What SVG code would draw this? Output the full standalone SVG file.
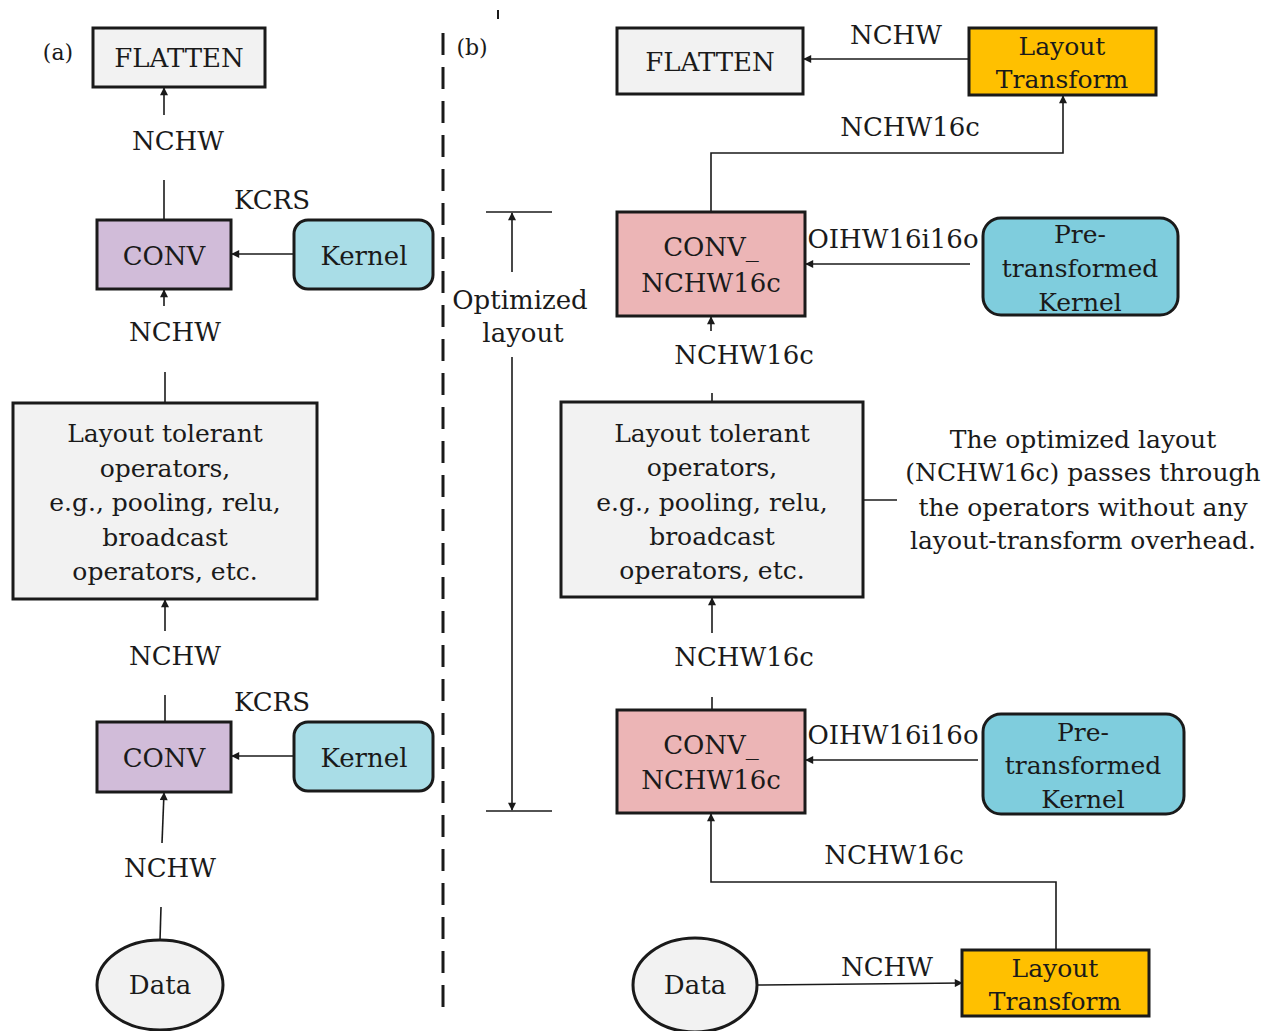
<svg xmlns="http://www.w3.org/2000/svg" width="1269" height="1031" viewBox="0 0 1269 1031">
<style>
text{font-family:"DejaVu Serif","Liberation Serif",serif;fill:#1a1a1a;text-anchor:middle}
.lbl{font-size:26px}
.box{font-size:25px}
.nd{stroke:#1a1a1a;stroke-width:3}
.gray{fill:#f2f2f2}
.purple{fill:#d1bcd9}
.cyan{fill:#a9dde7}
.cyan2{fill:#7fcddd}
.pink{fill:#ecb5b6}
.orange{fill:#ffc000}
.c{fill:none;stroke:#1a1a1a;stroke-width:1.6}
.arr{marker-end:url(#ah)}
</style>
<defs>
<marker id="ah" viewBox="0 0 10 10" refX="9" refY="5" markerWidth="9" markerHeight="8" markerUnits="userSpaceOnUse" orient="auto">
<path d="M0,0 L10,5 L0,10 z" fill="#1a1a1a"/>
</marker>
</defs>
<rect width="1269" height="1031" fill="#ffffff"/>

<!-- divider -->
<line x1="443" y1="33" x2="443" y2="1015" stroke="#1a1a1a" stroke-width="3" stroke-dasharray="22,12"/>
<line x1="498" y1="10" x2="498" y2="19" stroke="#1a1a1a" stroke-width="2"/>
<text x="58" y="60" style="font-size:22px">(a)</text>
<text x="472" y="55" style="font-size:22px">(b)</text>

<g id="connectors">
<!-- panel a -->
<line class="c arr" x1="164" y1="115" x2="164" y2="88"/>
<line class="c" x1="164" y1="180" x2="164" y2="220"/>
<line class="c arr" x1="294" y1="254" x2="232" y2="254"/>
<line class="c arr" x1="164" y1="306" x2="164" y2="290"/>
<line class="c" x1="165" y1="372" x2="165" y2="403"/>
<line class="c arr" x1="165" y1="631" x2="165" y2="600"/>
<line class="c" x1="165" y1="695" x2="165" y2="722"/>
<line class="c arr" x1="294" y1="756" x2="232" y2="756"/>
<line class="c arr" x1="162" y1="843" x2="164" y2="793"/>
<line class="c" x1="161" y1="907" x2="160" y2="940"/>
<!-- panel b -->
<line class="c arr" x1="969" y1="59" x2="804" y2="59"/>
<polyline class="c arr" points="711,212 711,153 1063,153 1063,96"/>
<line class="c arr" x1="970" y1="264" x2="806" y2="264"/>
<line class="c arr" x1="711" y1="331" x2="711" y2="317"/>
<line class="c" x1="712" y1="393" x2="712" y2="402"/>
<line class="c" x1="863" y1="500" x2="897" y2="500"/>
<line class="c arr" x1="712" y1="633" x2="712" y2="598"/>
<line class="c" x1="712" y1="697" x2="712" y2="710"/>
<line class="c arr" x1="978" y1="760" x2="806" y2="760"/>
<polyline class="c arr" points="1056,950 1056,882 711,882 711,814"/>
<line class="c arr" x1="757" y1="985" x2="962" y2="983"/>
<!-- optimized layout measure -->
<line class="c" x1="486" y1="212" x2="552" y2="212"/>
<line class="c" x1="486" y1="811" x2="552" y2="811"/>
<line class="c arr" x1="512" y1="272" x2="512" y2="213"/>
<line class="c arr" x1="512" y1="357" x2="512" y2="810"/>
</g>

<!-- connector labels -->
<g id="labels">
<text class="lbl" x="178" y="150">NCHW</text>
<text class="lbl" x="272" y="209">KCRS</text>
<text class="lbl" x="175" y="341">NCHW</text>
<text class="lbl" x="175" y="665">NCHW</text>
<text class="lbl" x="272" y="711">KCRS</text>
<text class="lbl" x="170" y="877">NCHW</text>
<text class="lbl" x="896" y="44">NCHW</text>
<text class="lbl" x="910" y="136">NCHW16c</text>
<text class="lbl" x="893" y="248">OIHW16i16o</text>
<text class="lbl" x="744" y="364">NCHW16c</text>
<text class="lbl" x="744" y="666">NCHW16c</text>
<text class="lbl" x="893" y="744">OIHW16i16o</text>
<text class="lbl" x="894" y="864">NCHW16c</text>
<text class="lbl" x="887" y="976">NCHW</text>
<text class="lbl" x="520" y="309">Optimized</text>
<text class="lbl" x="523" y="342">layout</text>
<text class="box" x="1083" y="448">The optimized layout</text>
<text class="box" x="1083" y="481">(NCHW16c) passes through</text>
<text class="box" x="1083" y="516">the operators without any</text>
<text class="box" x="1083" y="549">layout-transform overhead.</text>
</g>

<!-- panel a nodes -->
<g id="a_flatten">
<rect class="nd gray" x="93" y="28" width="172" height="59"/>
<text class="lbl" x="179" y="67">FLATTEN</text>
</g>
<g id="a_conv1">
<rect class="nd purple" x="97" y="220" width="134" height="69"/>
<text class="lbl" x="164" y="265">CONV</text>
</g>
<g id="a_kernel1">
<rect class="nd cyan" x="294" y="220" width="139" height="69" rx="14"/>
<text class="lbl" x="364" y="265">Kernel</text>
</g>
<g id="a_tolerant">
<rect class="nd gray" x="13" y="403" width="304" height="196"/>
<text class="box" x="165" y="442">Layout tolerant</text>
<text class="box" x="165" y="477">operators,</text>
<text class="box" x="165" y="511">e.g., pooling, relu,</text>
<text class="box" x="165" y="546">broadcast</text>
<text class="box" x="165" y="580">operators, etc.</text>
</g>
<g id="a_conv2">
<rect class="nd purple" x="97" y="722" width="134" height="70"/>
<text class="lbl" x="164" y="767">CONV</text>
</g>
<g id="a_kernel2">
<rect class="nd cyan" x="294" y="722" width="139" height="69" rx="14"/>
<text class="lbl" x="364" y="767">Kernel</text>
</g>
<g id="a_data">
<ellipse class="nd gray" cx="160" cy="985" rx="63" ry="45"/>
<text class="lbl" x="160" y="994">Data</text>
</g>

<!-- panel b nodes -->
<g id="b_flatten">
<rect class="nd gray" x="617" y="28" width="186" height="66"/>
<text class="lbl" x="710" y="71">FLATTEN</text>
</g>
<g id="b_lt_top">
<rect class="nd orange" x="969" y="28" width="187" height="67"/>
<text class="box" x="1062" y="55">Layout</text>
<text class="box" x="1062" y="88">Transform</text>
</g>
<g id="b_conv1">
<rect class="nd pink" x="617" y="212" width="188" height="104"/>
<text class="lbl" x="711" y="256">CONV_</text>
<text class="lbl" x="711" y="292">NCHW16c</text>
</g>
<g id="b_kernel1">
<rect class="nd cyan2" x="983" y="218" width="195" height="97" rx="18"/>
<text class="box" x="1080" y="243">Pre-</text>
<text class="box" x="1080" y="277">transformed</text>
<text class="box" x="1080" y="311">Kernel</text>
</g>
<g id="b_tolerant">
<rect class="nd gray" x="561" y="402" width="302" height="195"/>
<text class="box" x="712" y="442">Layout tolerant</text>
<text class="box" x="712" y="476">operators,</text>
<text class="box" x="712" y="511">e.g., pooling, relu,</text>
<text class="box" x="712" y="545">broadcast</text>
<text class="box" x="712" y="579">operators, etc.</text>
</g>
<g id="b_conv2">
<rect class="nd pink" x="617" y="710" width="188" height="103"/>
<text class="lbl" x="711" y="754">CONV_</text>
<text class="lbl" x="711" y="789">NCHW16c</text>
</g>
<g id="b_kernel2">
<rect class="nd cyan2" x="983" y="714" width="201" height="100" rx="18"/>
<text class="box" x="1083" y="741">Pre-</text>
<text class="box" x="1083" y="774">transformed</text>
<text class="box" x="1083" y="808">Kernel</text>
</g>
<g id="b_data">
<ellipse class="nd gray" cx="695" cy="985" rx="62" ry="47"/>
<text class="lbl" x="695" y="994">Data</text>
</g>
<g id="b_lt_bottom">
<rect class="nd orange" x="962" y="950" width="187" height="66"/>
<text class="box" x="1055" y="977">Layout</text>
<text class="box" x="1055" y="1010">Transform</text>
</g>
</svg>
